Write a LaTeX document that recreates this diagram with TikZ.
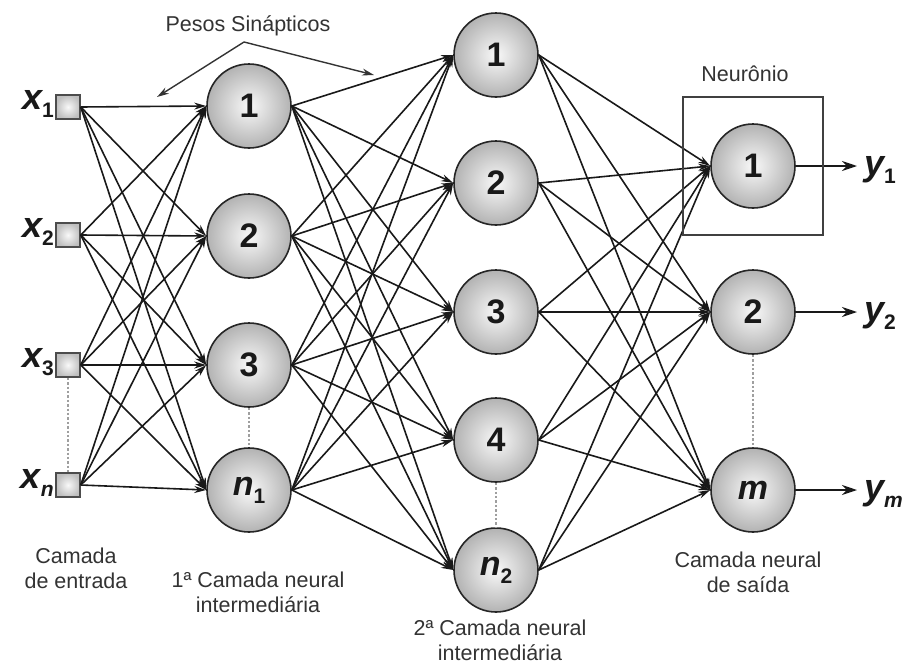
\documentclass[tikz,border=0pt]{standalone}
\usepackage{fontspec}
\setmainfont{Liberation Sans}
\usetikzlibrary{arrows.meta}
\newcommand{\subdig}[1]{\raisebox{-0.45ex}{\fontsize{21}{21}\selectfont\upshape #1}}
\newcommand{\subvar}[1]{\raisebox{-0.45ex}{\fontsize{21}{21}\selectfont\itshape #1}}
\begin{document}
\begin{tikzpicture}[x=1pt,y=-1pt,
  neuron/.style={circle, draw=black!85, line width=1.6pt, minimum size=84pt, inner sep=0pt,
    inner color=gray!5, outer color=gray!60, text=black!90,
    font=\fontsize{34}{34}\selectfont\bfseries},
  inbox/.style={rectangle, draw=black!70, line width=1.5pt, minimum size=24pt, inner sep=0pt,
    inner color=gray!5, outer color=gray!50},
  conn/.style={line width=1.6pt, draw=black!90, -{Stealth[length=12pt,width=7pt]}},
  outarrow/.style={line width=2pt, draw=black!90, -{Stealth[length=15pt,width=10pt]}},
  pointer/.style={line width=1.4pt, draw=black!80, -{Stealth[length=12pt,width=7pt]}},
  dots/.style={line width=2.4pt, draw=gray!75, dotted},
  varlabel/.style={font=\fontsize{36}{36}\selectfont\bfseries\itshape, text=black!90, inner sep=0pt},
  caption/.style={font=\fontsize{21.5}{25}\selectfont, text=black!80, align=center},
  framebox/.style={draw=black!75, line width=1.4pt}
]
\useasboundingbox (0,0) rectangle (910,664);

% input squares
\node[inbox] (x1) at (68,107) {};
\node[inbox] (x2) at (68,235) {};
\node[inbox] (x3) at (68,365) {};
\node[inbox] (x4) at (68,485) {};

% layer 1
\node[neuron] (a1) at (249,106) {1};
\node[neuron] (a2) at (249,236) {2};
\node[neuron] (a3) at (249,365) {3};
\node[neuron] (a4) at (249,490) {\itshape n\subdig{1}};

% layer 2
\node[neuron] (b1) at (496,55) {1};
\node[neuron] (b2) at (496,183) {2};
\node[neuron] (b3) at (496,312) {3};
\node[neuron] (b4) at (496,440) {4};
\node[neuron] (b5) at (496,570) {\itshape n\subdig{2}};

% output layer
\node[neuron] (c1) at (753,166) {1};
\node[neuron] (c2) at (753,312) {2};
\node[neuron] (c3) at (753,490) {\itshape m};

% connections
\foreach \i in {1,...,4}{\foreach \j in {1,...,4}{\draw[conn] (x\i.east) -- (a\j.west);}}
\foreach \i in {1,...,4}{\foreach \j in {1,...,5}{\draw[conn] (a\i.east) -- (b\j.west);}}
\foreach \i in {1,...,5}{\foreach \j in {1,...,3}{\draw[conn] (b\i.east) -- (c\j.west);}}

% dotted ellipses
\draw[dots] (x3.south) -- (x4.north);
\draw[dots] (a3.south) -- (a4.north);
\draw[dots] (b4.south) -- (b5.north);
\draw[dots] (c2.south) -- (c3.north);

% input labels
\node[varlabel, anchor=east] (lx1) at (54,104) {x\subdig{1}};
\node[varlabel, anchor=east] (lx2) at (54,232) {x\subdig{2}};
\node[varlabel, anchor=east] (lx3) at (54,362) {x\subdig{3}};
\node[varlabel, anchor=east] (lx4) at (54,483) {x\subvar{n}};

% outputs
\coordinate (e1) at (857,166);
\coordinate (e2) at (857,312);
\coordinate (e3) at (857,490);
\draw[outarrow] (c1.east) -- (e1);
\draw[outarrow] (c2.east) -- (e2);
\draw[outarrow] (c3.east) -- (e3);
\node[varlabel, anchor=west] (ly1) at (864,170) {y\subdig{1}};
\node[varlabel, anchor=west] (ly2) at (864,316) {y\subdig{2}};
\node[varlabel, anchor=west] (ly3) at (864,494) {y\subvar{m}};

% neuron frame
\draw[framebox] (683,97) rectangle (823,235);
\node[caption] (neur) at (745,74) {Neurônio};

% pesos sinapticos
\node[caption] (pesos) at (248,26) {Pesos Sinápticos};
\coordinate (apex) at (244,42);
\coordinate (pl) at (157,97);
\coordinate (pr) at (374,75);
\draw[pointer] (apex) -- (pl);
\draw[pointer] (apex) -- (pr);

% captions
\node[caption] (cap0) at (76,568) {Camada\\de entrada};
\node[caption] (cap1) at (258,592) {1ª Camada neural\\intermediária};
\node[caption] (cap2) at (500,640) {2ª Camada neural\\intermediária};
\node[caption] (cap3) at (748,572) {Camada neural\\de saída};
\end{tikzpicture}
\end{document}
